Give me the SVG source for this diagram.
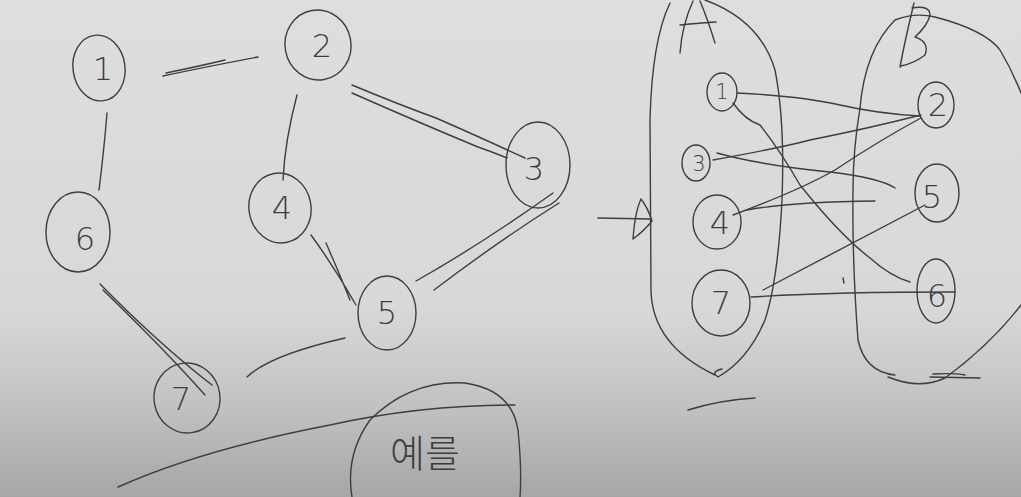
<svg xmlns="http://www.w3.org/2000/svg" width="1021" height="497" viewBox="0 0 1021 497">
<defs>
<linearGradient id="bg" x1="0" y1="0" x2="0" y2="1">
<stop offset="0" stop-color="#dedede"/>
<stop offset="0.62" stop-color="#d8d8d8"/>
<stop offset="0.8" stop-color="#c4c4c4"/>
<stop offset="1" stop-color="#a6a6a6"/>
</linearGradient>
<style>
.p{fill:none;stroke:#3e3e3e;stroke-width:1.4;stroke-linecap:round;stroke-linejoin:round}
.t{font-family:"DejaVu Sans","Liberation Sans",sans-serif;font-weight:200;fill:#3e3e3e;text-anchor:middle}
.big{font-size:32px}
.sm{font-size:21px}
.k{font-family:"Noto Sans CJK KR",sans-serif;font-weight:300;font-size:38px;fill:#3e3e3e;text-anchor:middle}
</style>
</defs>
<rect x="0" y="0" width="1021" height="497" fill="url(#bg)"/>

<g id="connectors">
<path class="p" d="M163 76 Q200 68 258 57 M166 73 Q200 66 225 60"/>
<path class="p" d="M107 113 Q104 150 99 190"/>
<path class="p" d="M297 95 Q285 140 283 180"/>
<path class="p" d="M352 85 Q400 105 436 118 Q475 135 525 158 M352 93 Q420 123 478 147 Q495 153 507 158"/>
<path class="p" d="M311 235 Q335 268 356 305 M326 243 Q340 275 350 300"/>
<path class="p" d="M416 281 Q480 245 553 193 M434 290 Q500 240 559 203"/>
<path class="p" d="M100 284 Q160 345 212 385 M103 290 Q165 350 205 395"/>
<path class="p" d="M247 377 Q270 355 345 338"/>
<path class="p" d="M598 218 L651 219 M633 239 Q635 212 641 199 Q648 208 652 221 Q644 231 633 239"/>
<path class="p" d="M737 93 Q800 96 840 105 Q880 114 920 116"/>
<path class="p" d="M733 103 Q745 120 760 125 Q780 150 800 185 Q840 235 870 258 Q890 276 910 282"/>
<path class="p" d="M713 160 Q780 148 810 140 Q870 128 921 115"/>
<path class="p" d="M717 153 Q760 165 830 172 Q880 178 895 188"/>
<path class="p" d="M733 215 Q800 190 835 170 Q880 140 921 118"/>
<path class="p" d="M747 210 Q790 202 875 201"/>
<path class="p" d="M763 290 Q840 250 925 205"/>
<path class="p" d="M751 297 Q830 292 955 292"/>
<path class="p" d="M843 278 L844 283"/>
</g>

<g id="node-1"><ellipse class="p" cx="99" cy="68" rx="26" ry="33" transform="rotate(-8 99 68)"/><text class="t big" x="103" y="80">1</text></g>
<g id="node-2"><ellipse class="p" cx="318" cy="45" rx="33" ry="35" transform="rotate(-10 318 45)"/><text class="t big" x="322" y="57">2</text></g>
<g id="node-3"><ellipse class="p" cx="538" cy="165" rx="32" ry="43"/><text class="t big" x="534" y="180">3</text></g>
<g id="node-4"><ellipse class="p" cx="280" cy="208" rx="31" ry="35" transform="rotate(-10 280 208)"/><text class="t big" x="282" y="219">4</text></g>
<g id="node-5"><ellipse class="p" cx="387" cy="313" rx="29" ry="37"/><text class="t big" x="387" y="324">5</text></g>
<g id="node-6"><ellipse class="p" cx="78" cy="232" rx="32" ry="40"/><text class="t big" x="85" y="250">6</text></g>
<g id="node-7"><ellipse class="p" cx="187" cy="398" rx="33" ry="35" transform="rotate(-8 187 398)"/><text class="t big" x="181" y="410">7</text></g>

<g id="example">
<path class="p" d="M118 487 Q200 450 330 425 Q420 405 515 405"/>
<path class="p" d="M352 497 Q345 455 370 420 Q410 380 465 383 Q512 390 518 430 Q522 470 520 497"/>
<text class="k" x="425" y="467">예를</text>
</g>

<g id="set-A">
<path class="p" d="M670 3 Q652 40 650 120 L651 290 Q652 345 715 375 M705 0 Q760 20 775 70 Q785 120 782 200 Q778 280 765 320 Q748 360 718 377 Q710 372 722 369"/>
<path class="p" d="M680 53 Q682 25 693 1 M700 1 Q708 20 715 43 M680 25 Q700 23 716 22"/>
<path class="p" d="M688 410 Q720 400 755 398"/>
</g>
<g id="set-B">
<path class="p" d="M860 108 Q865 50 895 20 Q915 12 935 17 Q985 30 1000 50 Q1012 70 1021 93"/>
<path class="p" d="M860 108 Q853 150 853 190 Q852 260 858 340 Q865 372 895 375 M888 377 Q920 390 945 378 Q990 345 1021 305"/>
<path class="p" d="M914 3 Q905 40 900 67 M912 8 Q930 5 930 15 Q928 25 915 37 Q930 42 925 55 Q915 63 901 66"/>
<path class="p" d="M930 377 L980 378 M933 374 Q955 373 965 375"/>
</g>

<g id="A-1"><ellipse class="p" cx="722" cy="92" rx="15" ry="19"/><text class="t sm" x="722" y="99">1</text></g>
<g id="A-3"><ellipse class="p" cx="696" cy="163" rx="14" ry="18"/><text class="t sm" x="699" y="171">3</text></g>
<g id="A-4"><ellipse class="p" cx="717" cy="222" rx="24" ry="27"/><text class="t big" x="720" y="234">4</text></g>
<g id="A-7"><ellipse class="p" cx="721" cy="303" rx="29" ry="33"/><text class="t big" x="721" y="314">7</text></g>
<g id="B-2"><ellipse class="p" cx="936" cy="105" rx="18" ry="23"/><text class="t big" x="938" y="116">2</text></g>
<g id="B-5"><ellipse class="p" cx="937" cy="193" rx="22" ry="29"/><text class="t big" x="932" y="208">5</text></g>
<g id="B-6"><ellipse class="p" cx="936" cy="291" rx="19" ry="32"/><text class="t big" x="937" y="307">6</text></g>
</svg>
